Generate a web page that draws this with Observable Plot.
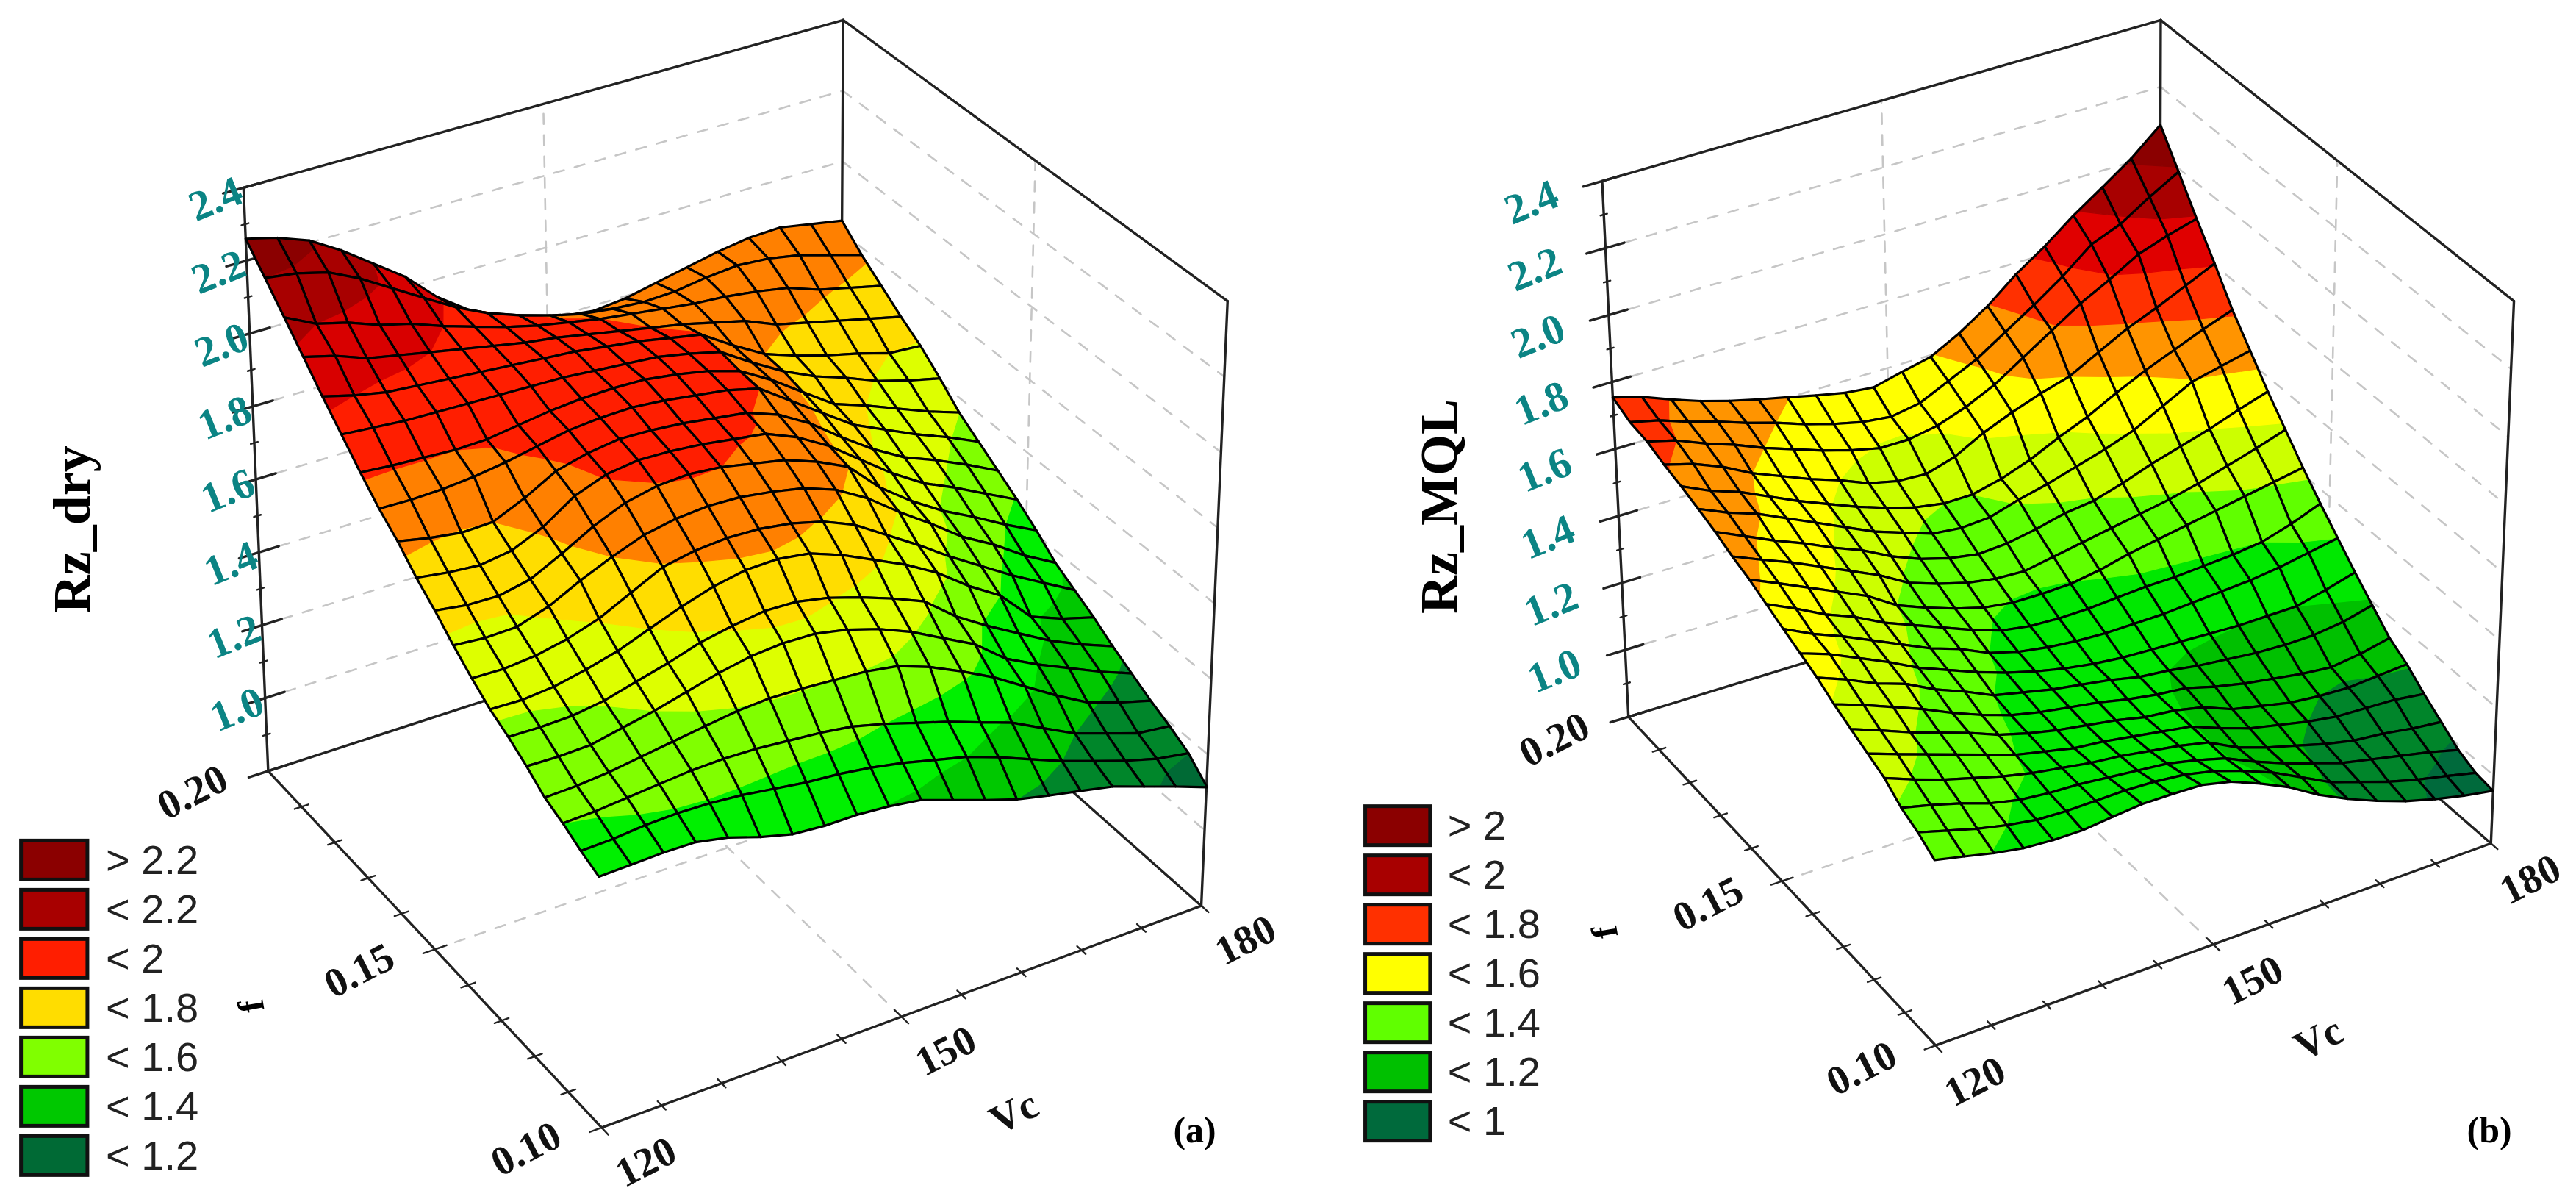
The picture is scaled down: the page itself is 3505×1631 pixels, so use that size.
<!DOCTYPE html>
<html><head><meta charset="utf-8">
<style>html,body{margin:0;padding:0;background:#fff;overflow:hidden}svg{display:block}</style>
<script src="https://cdn.jsdelivr.net/npm/d3@7"></script>
<script src="https://cdn.jsdelivr.net/npm/@observablehq/plot@0.6"></script>
</head><body><div id="chart"></div>
<script>
// Rows run from f = 0.20 (first) to f = 0.10 (last); columns from Vc = 120 to Vc = 180.
const rzDry = [
[2.26,2.24,2.21,2.16,2.10,2.04,1.96,1.90,1.86,1.83,1.81,1.80,1.81,1.83,1.85,1.87,1.885,1.89,1.875,1.86],
[2.20,2.19,2.17,2.13,2.08,2.03,1.98,1.94,1.91,1.885,1.865,1.855,1.85,1.855,1.87,1.88,1.875,1.86,1.835,1.81],
[2.14,2.10,2.08,2.05,2.03,2.00,1.975,1.95,1.93,1.915,1.90,1.89,1.88,1.87,1.865,1.855,1.84,1.81,1.79,1.77],
[2.08,2.06,2.03,2.015,2.0,1.985,1.97,1.955,1.945,1.93,1.915,1.90,1.885,1.865,1.845,1.81,1.79,1.77,1.75,1.73],
[2.02,2.0,1.985,1.98,1.975,1.97,1.965,1.96,1.955,1.945,1.935,1.92,1.905,1.85,1.80,1.77,1.745,1.725,1.70,1.695],
[1.965,1.96,1.955,1.955,1.955,1.955,1.955,1.955,1.95,1.945,1.94,1.925,1.905,1.85,1.80,1.76,1.73,1.695,1.67,1.65],
[1.91,1.905,1.903,1.90,1.905,1.92,1.935,1.945,1.95,1.95,1.94,1.925,1.90,1.85,1.79,1.73,1.70,1.665,1.63,1.60],
[1.86,1.86,1.865,1.875,1.89,1.91,1.93,1.94,1.945,1.94,1.93,1.92,1.90,1.84,1.78,1.72,1.68,1.64,1.605,1.565],
[1.82,1.805,1.795,1.80,1.84,1.89,1.915,1.93,1.93,1.925,1.915,1.905,1.875,1.825,1.76,1.70,1.65,1.615,1.575,1.53],
[1.77,1.76,1.755,1.77,1.81,1.87,1.905,1.92,1.92,1.915,1.905,1.895,1.86,1.81,1.745,1.68,1.625,1.585,1.54,1.495],
[1.73,1.72,1.72,1.74,1.785,1.835,1.875,1.897,1.905,1.90,1.885,1.87,1.84,1.80,1.715,1.65,1.595,1.55,1.50,1.455],
[1.685,1.68,1.685,1.715,1.76,1.80,1.835,1.855,1.865,1.865,1.855,1.84,1.81,1.76,1.695,1.635,1.57,1.52,1.46,1.41],
[1.645,1.645,1.655,1.675,1.705,1.75,1.795,1.815,1.825,1.825,1.815,1.795,1.76,1.705,1.65,1.59,1.535,1.48,1.43,1.38],
[1.61,1.61,1.62,1.64,1.665,1.70,1.735,1.765,1.785,1.79,1.78,1.75,1.71,1.67,1.62,1.555,1.50,1.41,1.375,1.35],
[1.585,1.585,1.59,1.605,1.63,1.655,1.685,1.705,1.72,1.72,1.705,1.68,1.65,1.615,1.545,1.49,1.44,1.39,1.35,1.315],
[1.555,1.555,1.56,1.58,1.60,1.625,1.65,1.67,1.68,1.68,1.665,1.64,1.605,1.56,1.515,1.445,1.40,1.36,1.32,1.285],
[1.52,1.525,1.535,1.55,1.565,1.58,1.595,1.603,1.603,1.60,1.597,1.585,1.555,1.515,1.47,1.415,1.36,1.31,1.28,1.255],
[1.50,1.505,1.515,1.525,1.535,1.54,1.54,1.535,1.53,1.52,1.50,1.475,1.45,1.42,1.39,1.345,1.30,1.27,1.24,1.23],
[1.475,1.48,1.49,1.495,1.495,1.49,1.48,1.47,1.465,1.455,1.44,1.42,1.40,1.37,1.335,1.30,1.27,1.24,1.215,1.20],
[1.455,1.46,1.465,1.466,1.451,1.425,1.405,1.40,1.402,1.397,1.386,1.357,1.328,1.30,1.281,1.264,1.246,1.215,1.184,1.15]
];
const rzMql = [
[1.754,1.73,1.697,1.667,1.642,1.621,1.602,1.582,1.564,1.555,1.576,1.595,1.64,1.696,1.766,1.824,1.891,1.95,2.011,2.086],
[1.73,1.71,1.68,1.655,1.625,1.60,1.57,1.545,1.525,1.515,1.53,1.57,1.61,1.665,1.72,1.78,1.85,1.885,1.94,1.99],
[1.723,1.70,1.665,1.635,1.60,1.57,1.54,1.515,1.495,1.495,1.51,1.54,1.58,1.635,1.69,1.745,1.79,1.84,1.87,1.894],
[1.704,1.68,1.645,1.60,1.565,1.53,1.50,1.465,1.445,1.44,1.465,1.51,1.545,1.575,1.60,1.645,1.69,1.725,1.765,1.805],
[1.69,1.65,1.62,1.58,1.54,1.505,1.47,1.44,1.415,1.40,1.40,1.42,1.45,1.49,1.525,1.57,1.61,1.645,1.68,1.711],
[1.673,1.635,1.605,1.565,1.525,1.485,1.445,1.415,1.385,1.375,1.38,1.405,1.425,1.45,1.475,1.505,1.55,1.595,1.615,1.634],
[1.655,1.615,1.575,1.54,1.50,1.465,1.42,1.385,1.36,1.345,1.35,1.365,1.385,1.395,1.42,1.45,1.475,1.50,1.53,1.557],
[1.632,1.595,1.56,1.52,1.48,1.44,1.39,1.36,1.335,1.32,1.315,1.33,1.345,1.36,1.375,1.39,1.41,1.435,1.46,1.488],
[1.614,1.575,1.535,1.495,1.455,1.40,1.365,1.335,1.31,1.297,1.295,1.297,1.31,1.33,1.345,1.36,1.375,1.39,1.405,1.42],
[1.591,1.55,1.505,1.47,1.425,1.39,1.355,1.32,1.29,1.275,1.27,1.27,1.275,1.28,1.28,1.285,1.29,1.30,1.325,1.358],
[1.568,1.525,1.49,1.45,1.41,1.37,1.34,1.30,1.275,1.26,1.25,1.245,1.245,1.245,1.25,1.255,1.26,1.27,1.285,1.30],
[1.546,1.515,1.475,1.435,1.39,1.355,1.32,1.29,1.265,1.245,1.23,1.22,1.215,1.21,1.205,1.20,1.20,1.20,1.22,1.243],
[1.524,1.49,1.45,1.42,1.375,1.34,1.30,1.28,1.26,1.245,1.23,1.21,1.20,1.185,1.175,1.165,1.16,1.16,1.17,1.19],
[1.496,1.465,1.43,1.395,1.355,1.32,1.29,1.27,1.255,1.24,1.22,1.205,1.195,1.17,1.15,1.135,1.12,1.11,1.12,1.138],
[1.473,1.44,1.405,1.375,1.345,1.31,1.285,1.265,1.25,1.235,1.215,1.205,1.185,1.15,1.13,1.11,1.10,1.095,1.10,1.105],
[1.451,1.42,1.39,1.36,1.33,1.30,1.28,1.26,1.25,1.235,1.22,1.205,1.17,1.14,1.12,1.10,1.085,1.08,1.075,1.062],
[1.429,1.395,1.365,1.34,1.315,1.295,1.28,1.265,1.255,1.24,1.225,1.205,1.16,1.13,1.105,1.08,1.06,1.05,1.035,1.024],
[1.392,1.37,1.345,1.315,1.295,1.285,1.28,1.27,1.26,1.25,1.23,1.205,1.165,1.13,1.10,1.07,1.05,1.03,1.01,0.986],
[1.37,1.345,1.32,1.30,1.285,1.28,1.28,1.28,1.275,1.265,1.245,1.215,1.18,1.135,1.09,1.06,1.03,1.005,0.985,0.963],
[1.339,1.319,1.298,1.282,1.275,1.273,1.281,1.288,1.286,1.282,1.261,1.225,1.183,1.13,1.087,1.05,1.018,0.993,0.972,0.955]
];

// Contour bands of the two surfaces, from the lowest level upward.
const bandLimits = {
  dry: [1.2,1.3,1.4,1.5,1.6,1.7,1.8,1.9,2.0,2.1,2.2],
  mql: [1.0,1.1,1.2,1.3,1.4,1.5,1.6,1.7,1.8,1.9,2.0]
};
const bandColors = {
  dry: ["#006a35","#00862a","#00c800","#00f000","#80ff00","#ddff00","#ffdd00","#ff8000","#ff1e00","#d80000","#a80000","#8b0000"],
  mql: ["#006a3c","#00852a","#00c000","#00e800","#60ff00","#ccff00","#ffff00","#ff9400","#ff3000","#e00000","#a80000","#8b0000"]
};
const legendLabels = {
  dry: ["> 2.2","< 2.2","< 2","< 1.8","< 1.6","< 1.4","< 1.2"],
  mql: ["> 2","< 2","< 1.8","< 1.6","< 1.4","< 1.2","< 1"]
};
const legendColors = {
  dry: ["#8b0000","#a80000","#ff1e00","#ffdd00","#80ff00","#00c800","#006a35"],
  mql: ["#8b0000","#a80000","#ff3000","#ffff00","#60ff00","#00c000","#006a3c"]
};
const zTicks = [0.8,1.0,1.2,1.4,1.6,1.8,2.0,2.2,2.4];
const zTickLabels = ["1.0","1.2","1.4","1.6","1.8","2.0","2.2","2.4"];
const fTickLabels = ["0.10","0.15","0.20"];
const vcTickLabels = ["120","150","180"];

const W = 3505, H = 1631, K = 3505/1568;
const sc = p => [p[0]*K, p[1]*K];

// Perspective frame of each panel, in the coordinates of the shrunk reference.
const panels = [
 { key:"dry", Z:rzDry, title:"Rz_dry", tag:"(a)",
   F:{a:[366,686],b:[731,551],c:[163,469],d:[511,356]},
   T:{a:[362,290],b:[747,183],c:[148,114],d:[513,12]},
   S:{a:[362,313],b:[747,221],c:[148,114],d:[513,21]},
   zOff:[-17,7], fOff:[-46,13], vOff:[27,21],
   titleAt:[44,322], fAt:[153,612], vcAt:[617,677], tagAt:[727,688],
   legendBox:[12.8,53.2,511.5,67/K], legendText:64.2 },
 { key:"mql", Z:rzMql, title:"Rz_MQL", tag:"(b)",
   F:{a:[1178,636],b:[1516,513],c:[991,436],d:[1314,337]},
   T:{a:[1176,301],b:[1530,183],c:[975,110],d:[1315,12]},
   S:{a:[1176,301],b:[1530,183],c:[975,110],d:[1315,12]},
   zOff:[-43,13], fOff:[-45,14], vOff:[24,22],
   titleAt:[876,308], fAt:[977,567], vcAt:[1411,632], tagAt:[1515,688],
   legendBox:[831,870.5,490.6,67/K], legendText:881 }
];

const bilerp = (q,u,v,j) => q.a[j]*(1-u)*(1-v)+q.b[j]*u*(1-v)+q.c[j]*(1-u)*v+q.d[j]*u*v;
const vcU = vc => (vc-120)/60, fV = f => (f-0.10)/0.10, zW = z => (z-0.8)/1.6;
function proj(F,T,u,v,w){
  const fx=bilerp(F,u,v,0), fy=bilerp(F,u,v,1), tx=bilerp(T,u,v,0), ty=bilerp(T,u,v,1);
  return sc([fx+(tx-fx)*w, fy+(ty-fy)*w]);
}

function clipBand(poly, lo, hi){
  const cut = (pts, keep, lim) => {
    const out=[];
    pts.forEach((p,n)=>{
      const q=pts[(n+1)%pts.length], pi=keep(p[2]), qi=keep(q[2]);
      if(pi) out.push(p);
      if(pi!==qi){ const t=(lim-p[2])/(q[2]-p[2]); out.push([p[0]+(q[0]-p[0])*t,p[1]+(q[1]-p[1])*t,lim]); }
    });
    return out;
  };
  let r=poly;
  if(lo>-Infinity) r=cut(r,z=>z>=lo,lo);
  if(r.length&&hi<Infinity) r=cut(r,z=>z<=hi,hi);
  return r;
}

let uid=0;
const polys=[], grid=[], solid=[], thin=[], texts=[];
for(const p of panels){
  const B=(u,v,w)=>proj(p.F,p.T,u,v,w), Sf=(u,v,z)=>proj(p.F,p.S,u,v,zW(z));
  const seg=(arr,a,b)=>{const id=uid++;arr.push({id,x:a[0],y:a[1]},{id,x:b[0],y:b[1]});};
  // back walls and floor
  for(const z of zTicks){
    seg(grid,B(0,1,zW(z)),B(1,1,zW(z)));
    seg(grid,B(1,1,zW(z)),B(1,0,zW(z)));
  }
  seg(grid,B(vcU(150),1,0),B(vcU(150),1,1));
  seg(grid,B(1,fV(0.15),0),B(1,fV(0.15),1));
  seg(grid,B(vcU(150),0,0),B(vcU(150),1,0));
  seg(grid,B(0,fV(0.15),0),B(1,fV(0.15),0));
  // box
  seg(solid,B(0,1,0),B(0,1,1)); seg(solid,B(1,0,0),B(1,0,1)); seg(solid,B(1,1,0),B(1,1,1));
  seg(solid,B(0,1,1),B(1,1,1)); seg(solid,B(1,1,1),B(1,0,1));
  seg(solid,B(0,1,0),B(1,1,0)); seg(solid,B(1,1,0),B(1,0,0));
  seg(solid,B(0,0,0),B(1,0,0)); seg(solid,B(0,0,0),B(0,1,0));
  // z ticks
  for(let n=0;n<=16;n++){
    const z=0.8+n*0.1, d=n%2?0.006:0.034;
    seg(n%2?thin:solid,B(-d,1,zW(z)),B(d,1,zW(z)));
  }
  // f and Vc ticks
  for(let n=0;n<=10;n++){
    const t=n/10, d=n%5?0.012:0.02;
    seg(thin,B(-d,t,0),B(d,t,0));
    seg(thin,B(t,-d,0),B(t,d,0));
  }
  // surface, drawn from the far corner to the near corner
  const N=p.Z.length-1, limits=bandLimits[p.key], cols=bandColors[p.key];
  for(let k=0;k<N;k++) for(let i=N-1;i>=0;i--){
    const c=[[i,k],[i+1,k],[i+1,k+1],[i,k+1]].map(([a,b])=>[a/N,1-b/N,p.Z[b][a]]);
    cols.forEach((col,n)=>{
      const lo=n?limits[n-1]:-Infinity, hi=n<limits.length?limits[n]:Infinity;
      const r=clipBand(c,lo,hi);
      if(r.length<3) return;
      const id=uid++;
      [...r,r[0]].forEach(q=>{const s=Sf(q[0],q[1],q[2]);polys.push({id,x:s[0],y:s[1],fill:col,stroke:col,sw:1.2});});
    });
    const id=uid++;
    [...c,c[0]].forEach(q=>{const s=Sf(q[0],q[1],q[2]);polys.push({id,x:s[0],y:s[1],fill:"none",stroke:"#000",sw:3.2});});
  }
  // tick labels
  const off=(pt,o)=>[pt[0]+o[0]*K,pt[1]+o[1]*K];
  zTickLabels.forEach(t=>{const a=off(B(0,1,zW(+t)),p.zOff);texts.push({x:a[0],y:a[1],text:t,kind:"z"});});
  fTickLabels.forEach(t=>{const a=off(B(0,fV(+t),0),p.fOff);texts.push({x:a[0],y:a[1],text:t,kind:"t"});});
  vcTickLabels.forEach(t=>{const a=off(B(vcU(+t),0,0),p.vOff);texts.push({x:a[0],y:a[1],text:t,kind:"t"});});
  const at=q=>sc(q);
  texts.push({x:at(p.titleAt)[0],y:at(p.titleAt)[1],text:p.title,kind:"title"});
  texts.push({x:at(p.fAt)[0],y:at(p.fAt)[1],text:"f",kind:"f"});
  texts.push({x:at(p.vcAt)[0],y:at(p.vcAt)[1],text:"Vc",kind:"t"});
  texts.push({x:at(p.tagAt)[0],y:at(p.tagAt)[1],text:p.tag,kind:"tag"});
}
const legendRects=[], legendTexts=[];
for(const p of panels){
  const [x0,x1,y0,pitch]=p.legendBox;
  legendLabels[p.key].forEach((t,n)=>{
    const top=(y0+n*pitch)*K;
    legendRects.push({x1:x0*K,x2:x1*K,y1:top,y2:top+53,fill:legendColors[p.key][n]});
    legendTexts.push({x:p.legendText*K,y:top+27,text:t});
  });
}
const xy={x:"x",y:"y",z:"id"};
const textMark=(kind,o)=>Plot.text(texts.filter(d=>d.kind===kind),{x:"x",y:"y",text:"text",textAnchor:"middle",lineAnchor:"middle",...o});
const chart=Plot.plot({
  width:W,height:H,margin:0,
  x:{domain:[0,W],range:[0,W],axis:null},
  y:{domain:[0,H],range:[0,H],axis:null},
  color:{type:"identity"},
  style:{background:"#fff"},
  marks:[
    Plot.line(grid,{...xy,stroke:"#c6c6c6",strokeWidth:2.6,strokeDasharray:"14 15"}),
    Plot.line(thin,{...xy,stroke:"#222",strokeWidth:2.4}),
    Plot.line(solid,{...xy,stroke:"#222",strokeWidth:3.4}),
    Plot.line(polys,{...xy,fill:"fill",stroke:"stroke",strokeWidth:"sw",strokeLinejoin:"round"}),
    textMark("z",{fill:"#0b8484",fontFamily:"Liberation Serif",fontSize:58,fontWeight:"bold",rotate:-22}),
    textMark("t",{fill:"#111",fontFamily:"Liberation Serif",fontSize:56,fontWeight:"bold",rotate:-27}),
    textMark("title",{fill:"#000",fontFamily:"Liberation Serif",fontSize:72,fontWeight:"bold",rotate:-90}),
    textMark("f",{fill:"#000",fontFamily:"Liberation Serif",fontSize:50,fontWeight:"bold",rotate:-100}),
    textMark("tag",{fill:"#000",fontFamily:"Liberation Serif",fontSize:50,fontWeight:"bold"}),
    Plot.rect(legendRects,{x1:"x1",x2:"x2",y1:"y1",y2:"y2",fill:"fill",stroke:"#111",strokeWidth:5}),
    Plot.text(legendTexts,{x:"x",y:"y",text:"text",textAnchor:"start",lineAnchor:"middle",fontFamily:"Liberation Sans",fontSize:56,fill:"#222"})
  ]
});
document.getElementById("chart").appendChild(chart);
</script></body></html>
